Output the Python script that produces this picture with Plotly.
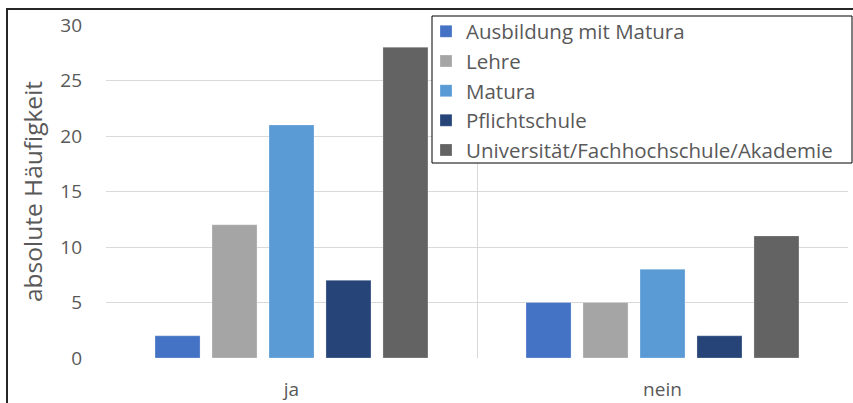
import plotly.graph_objects as go

categories = ["ja", "nein"]
series_names = ["Ausbildung mit Matura", "Lehre", "Matura", "Pflichtschule",
                "Universität/Fachhochschule/Akademie"]
ausbildung_mit_matura = [2, 5]
lehre = [12, 5]
matura = [21, 8]
pflichtschule = [7, 2]
universitaet = [28, 11]
y_ticks = [0, 5, 10, 15, 20, 25, 30]

values = [ausbildung_mit_matura, lehre, matura, pflichtschule, universitaet]
colors = ["#4472C4", "#A5A5A5", "#5B9BD5", "#264478", "#636363"]

FONT = "Open Sans"
TXT = "#595959"

W, H = 853, 403
L, R, T, B = 106, 5, 25, 45
PW, PH = W - L - R, H - T - B


def px_x(p):
    return (p - L) / PW


def px_y(p):
    return (H - B - p) / PH


fig = go.Figure()
for name, vals, col in zip(series_names, values, colors):
    fig.add_trace(go.Bar(x=categories, y=vals, name=name, marker_color=col,
                         marker_line=dict(width=1, color="rgba(255,255,255,0.25)"),
                         legendgroup=name))

fig.update_layout(
    width=W, height=H,
    margin=dict(l=L, r=R, t=T, b=B),
    paper_bgcolor="white", plot_bgcolor="white",
    barmode="group", bargap=0.232, bargroupgap=0.21,
    font=dict(family=FONT, color=TXT, size=19),
    showlegend=True,
    legend=dict(x=px_x(426), y=px_y(11.5), xanchor="left", yanchor="top",
                bgcolor="rgba(0,0,0,0)", borderwidth=0,
                font=dict(family=FONT, size=20.5, color=TXT),
                tracegroupgap=0),
    xaxis=dict(type="category", tickson="boundaries", showgrid=True,
               gridcolor="#D9D9D9", gridwidth=1, ticks="", showline=False,
               zeroline=False, automargin=False, ticklabelstandoff=18,
               tickfont=dict(size=19, color=TXT)),
    yaxis=dict(range=[0, 30], tickvals=y_ticks, showgrid=True,
               gridcolor="#D9D9D9", gridwidth=1, zeroline=False, showline=False,
               ticks="", ticklabelstandoff=23, automargin=False,
               tickfont=dict(size=19, color=TXT),
               title=dict(text="absolute Häufigkeit", standoff=10,
                          font=dict(size=24.5, color=TXT))),
    shapes=[
        dict(type="rect", xref="paper", yref="paper",
             x0=px_x(7), x1=px_x(W + 10), y0=px_y(H + 10), y1=px_y(9),
             line=dict(color="#262626", width=2), layer="above"),
        dict(type="rect", xref="paper", yref="paper",
             x0=px_x(432), x1=px_x(852), y0=px_y(163), y1=px_y(16),
             fillcolor="white", line=dict(color="#000000", width=1),
             layer="above"),
    ],
)

fig.write_html("out.html", config={"displayModeBar": False},
               post_script="document.body.style.margin='0';")
